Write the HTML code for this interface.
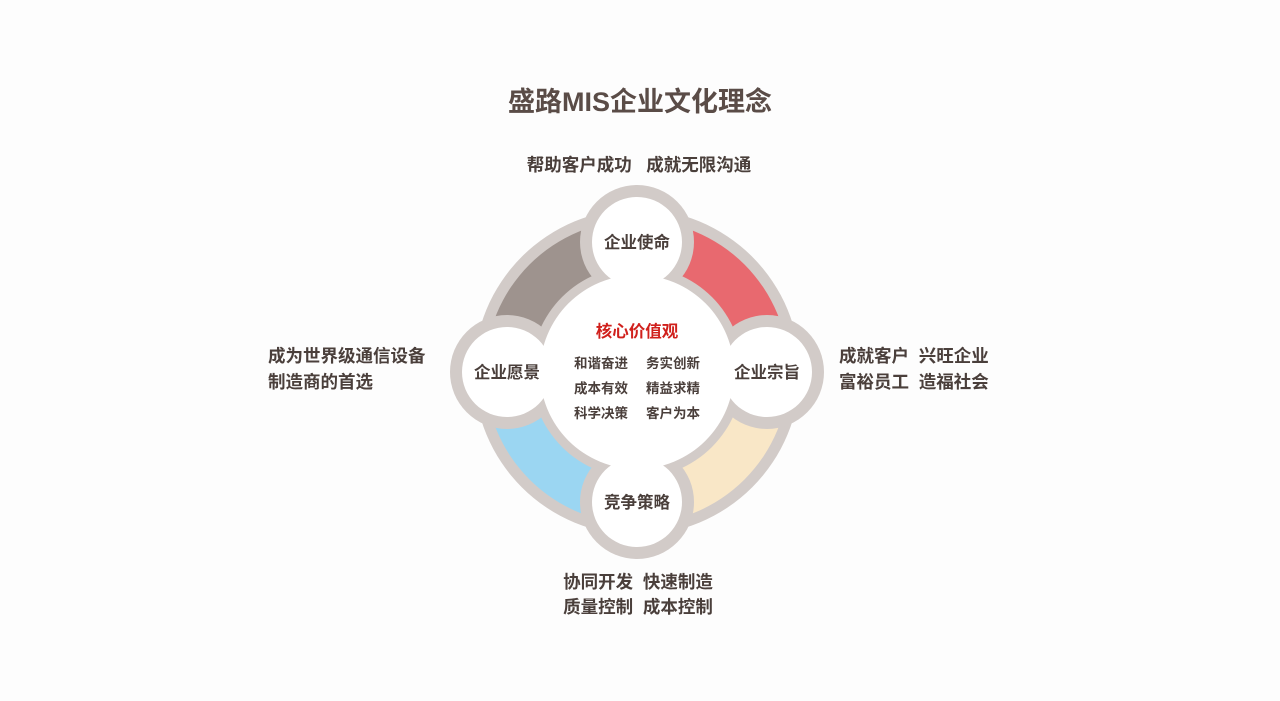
<!DOCTYPE html>
<html><head><meta charset="utf-8"><style>
body{margin:0;width:1280px;height:701px;background:#fdfdfd;overflow:hidden;font-family:"Liberation Sans","Noto Sans CJK SC",sans-serif;}
</style></head><body>
<svg width="1280" height="701" viewBox="0 0 1280 701" style="position:absolute;left:0;top:0" font-family="Liberation Sans, Noto Sans CJK SC, sans-serif" font-weight="bold">
<text x="640" y="111" text-anchor="middle" font-size="27" fill="#5a4c47">盛路MIS企业文化理念</text>
<text x="639" y="171" text-anchor="middle" font-size="17.5" fill="#4a3f3b">帮助客户成功&#160;&#160;&#160;成就无限沟通</text>
<text x="268" y="362" font-size="17.5" fill="#4a3f3b">成为世界级通信设备</text>
<text x="268" y="388" font-size="17.5" fill="#4a3f3b">制造商的首选</text>
<text x="839" y="362" font-size="17.5" fill="#4a3f3b">成就客户&#160;&#160;兴旺企业</text>
<text x="839" y="388" font-size="17.5" fill="#4a3f3b">富裕员工&#160;&#160;造福社会</text>
<text x="638" y="588" text-anchor="middle" font-size="17.5" fill="#4a3f3b">协同开发&#160;&#160;快速制造</text>
<text x="638" y="613" text-anchor="middle" font-size="17.5" fill="#4a3f3b">质量控制&#160;&#160;成本控制</text>
<g transform="translate(637,372)">
<circle r="163" fill="#d2cbc8"/>
<path d="M-152 0 A152 152 0 0 1 0 -152 L0 -105 A105 105 0 0 0 -105 0Z" fill="#9e938e"/>
<path d="M0 -152 A152 152 0 0 1 152 0 L105 0 A105 105 0 0 0 0 -105Z" fill="#e8696f"/>
<path d="M152 0 A152 152 0 0 1 0 152 L0 105 A105 105 0 0 0 105 0Z" fill="#f9e7c7"/>
<path d="M0 152 A152 152 0 0 1 -152 0 L-105 0 A105 105 0 0 0 0 105Z" fill="#9bd6f2"/>
<circle r="106" fill="#d2cbc8"/>
<circle cx="0" cy="-130" r="57" fill="#d2cbc8"/>
<circle cx="130" cy="0" r="57" fill="#d2cbc8"/>
<circle cx="0" cy="130" r="57" fill="#d2cbc8"/>
<circle cx="-130" cy="0" r="57" fill="#d2cbc8"/>
<circle cx="0" cy="-130" r="45" fill="#fff"/>
<circle cx="130" cy="0" r="45" fill="#fff"/>
<circle cx="0" cy="130" r="45" fill="#fff"/>
<circle cx="-130" cy="0" r="45" fill="#fff"/>
<circle r="97" fill="#fff"/>
<g font-size="16.5" fill="#4a3f3b" text-anchor="middle">
<text x="0" y="-124">企业使命</text>
<text x="130" y="6">企业宗旨</text>
<text x="0" y="136">竞争策略</text>
<text x="-130" y="6">企业愿景</text>
</g>
<text x="0" y="-35" text-anchor="middle" font-size="16.5" fill="#d0201c">核心价值观</text>
<g font-size="13.5" fill="#4a3f3b" text-anchor="middle">
<text x="-36" y="-4">和谐奋进</text><text x="36" y="-4">务实创新</text>
<text x="-36" y="21">成本有效</text><text x="36" y="21">精益求精</text>
<text x="-36" y="46">科学决策</text><text x="36" y="46">客户为本</text>
</g>
</g>
</svg>
</body></html>
